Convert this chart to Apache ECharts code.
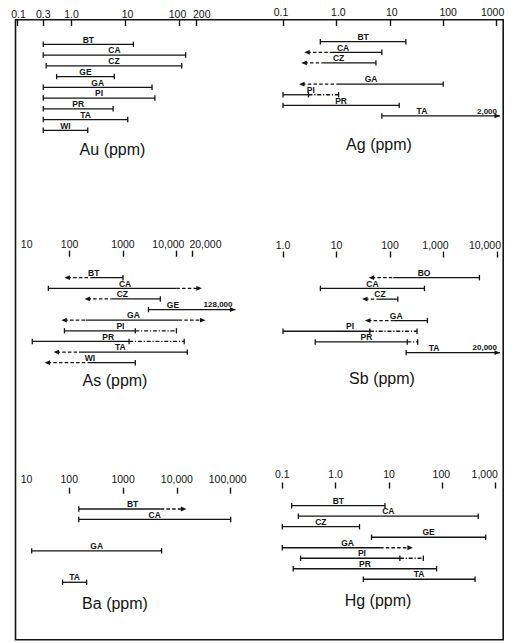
<!DOCTYPE html>
<html><head><meta charset="utf-8">
<script src="https://cdn.jsdelivr.net/npm/echarts@6/dist/echarts.min.js"></script>
<style>html,body{margin:0;padding:0;background:#fff}#c{width:518px;height:643px}</style>
</head><body><div id="c"></div>
<script>
// ================= DATA (all values in ppm) =================
// low/high = solid range; lowOpen/highOpen = range open-ended (arrow) to that value;
// highExt = additional (dash-dot) range; maxVal = reported maximum (off scale, solid arrow)

// ---- Au ----
const auNames = ['BT','CA','CZ','GE','GA','PI','PR','TA','WI'];
const auLow   = [0.3, 0.3, 0.34, 0.53, 0.3, 0.3, 0.3, 0.3, 0.3];
const auHigh  = [14, 130, 110, 6.2, 31, 35, 5.9, 11, 2.0];
const auTicks = [0.1, 0.3, 1, 10, 100, 200];
const auTickLabels = ['0.1','0.3','1.0','10','100','200'];

// ---- Ag ----
const agNames   = ['BT','CA','CZ','','GA','PI','PR','TA'];
const agLow     = [0.5, 0.75, 0.57, null, 1.0, 0.1, 0.1, 7.1];
const agHigh    = [20, 7.1, 5.5, null, 100, 0.3, 15, null];
const agLowOpen = [null, 0.25, 0.22, null, 0.2, null, null, null];
const agHighExt = [null, null, null, null, null, 1.1, null, null];
const agMaxVal  = [null, null, null, null, null, null, null, 2000];
const agTicks = [0.1, 1, 10, 100, 1000];
const agTickLabels = ['0.1','1.0','10','100','1000'];

// ---- As ----
const asNames    = ['BT','CA','CZ','GE','GA','PI','PR','TA','WI'];
const asLow      = [250, 40, 600, 3000, 200, 80, 20, 150, 220];
const asHigh     = [1000, 10000, 5000, null, 11000, 1700, 1300, 16000, 1700];
const asLowOpen  = [80, null, 190, null, 70, null, null, 50, 34];
const asHighOpen = [null, 30000, null, null, 35000, null, null, null, null];
const asHighExt  = [null, null, null, null, null, 10000, 14000, null, null];
const asMaxVal   = [null, null, null, 128000, null, null, null, null, null];
const asTicks = [100, 1000, 10000, 20000];
const asLabelValues = [10, 100, 1000, 10000, 20000];
const asTickLabels = ['10','100','1000','10,000','20,000'];

// ---- Sb ----
const sbNames   = ['BO','CA','CZ','','GA','PI','PR','TA'];
const sbLow     = [115, 5, 65, null, 115, 1.0, 4, 200];
const sbHigh    = [4700, 440, 140, null, 500, 42, 210, null];
const sbLowOpen = [40, null, 30, null, 34, null, null, null];
const sbHighExt = [null, null, null, null, null, 320, 330, null];
const sbMaxVal  = [null, null, null, null, null, null, null, 20000];
const sbTicks = [1, 10, 100, 1000, 10000];
const sbTickLabels = ['1.0','10','100','1,000','10,000'];

// ---- Ba ----
const baNames    = ['BT','CA','','','GA','','','TA'];
const baLow      = [150, 150, null, null, 20, null, null, 75];
const baHigh     = [5000, 100000, null, null, 5200, null, null, 210];
const baHighOpen = [15000, null, null, null, null, null, null, null];
const baTicks = [100, 1000, 10000, 100000];
const baLabelValues = [10, 100, 1000, 10000, 100000];
const baTickLabels = ['10','100','1000','10,000','100,000'];

// ---- Hg ----
const hgNames    = ['BT','CA','CZ','GE','GA','PI','PR','TA'];
const hgLow      = [0.15, 0.2, 0.1, 4.7, 0.1, 0.22, 0.16, 3.3];
const hgHigh     = [8.4, 470, 2.8, 650, 6.8, 16, 78, 410];
const hgHighOpen = [null, null, null, null, 28, null, null, null];
const hgHighExt  = [null, null, null, null, null, 44, null, null];
const hgTicks = [0.1, 1, 10, 100, 1000];
const hgTickLabels = ['0.1','1.0','10','100','1,000'];

// ================= LAYOUT / STYLE =================
const INK = '#141414';
const FONT = '"Liberation Sans", Arial, sans-serif';

const panels = [
  { title: 'Au (ppm)', d: { names: auNames, low: auLow, high: auHigh },
    ticks: auTicks, labelValues: auTicks, labelTexts: auTickLabels,
    L: { x0: 71.5, slope: 54, lmin: -1, lmax: 3, y0: 44.3, sp: 10.75, axisY: 20, margin: 1, shifts: [1,0,0,2,-2,6], tx: 112.5, ty: 149.4 } },
  { title: 'Ag (ppm)', d: { names: agNames, low: agLow, high: agHigh, lowOpen: agLowOpen, highExt: agHighExt, maxVal: agMaxVal },
    ticks: agTicks, labelValues: agTicks, labelTexts: agTickLabels,
    L: { x0: 336.4, slope: 53.4, lmin: -1, lmax: 3.12, y0: 41.7, sp: 10.61, axisY: 20, margin: 3, shifts: [-2,2,2,5,-4], tx: 379, ty: 144.5 } },
  { title: 'As (ppm)', d: { names: asNames, low: asLow, high: asHigh, lowOpen: asLowOpen, highOpen: asHighOpen, highExt: asHighExt, maxVal: asMaxVal },
    ticks: asTicks, labelValues: asLabelValues, labelTexts: asTickLabels,
    L: { x0: -37.2, slope: 53.4, lmin: 1, lmax: 5.3, y0: 277.7, sp: 10.625, axisY: 250.7, margin: 1, shifts: [10.5,0,0,-8,13], tx: 115, ty: 380.3 } },
  { title: 'Sb (ppm)', d: { names: sbNames, low: sbLow, high: sbHigh, lowOpen: sbLowOpen, highExt: sbHighExt, maxVal: sbMaxVal },
    ticks: sbTicks, labelValues: sbTicks, labelTexts: sbTickLabels,
    L: { x0: 283, slope: 53.5, lmin: 0, lmax: 4.112, y0: 277.7, sp: 10.71, axisY: 251.5, margin: 1, shifts: [0,0,0,-8,-12], tx: 382, ty: 378.7 } },
  { title: 'Ba (ppm)', d: { names: baNames, low: baLow, high: baHigh, highOpen: baHighOpen },
    ticks: baTicks, labelValues: baLabelValues, labelTexts: baTickLabels,
    L: { x0: -38.3, slope: 53.8, lmin: 1, lmax: 5.3, y0: 509, sp: 10.47, axisY: 487.7, margin: 3, shifts: [11,0,0,0,-3], tx: 115, ty: 603.5 } },
  { title: 'Hg (ppm)', d: { names: hgNames, low: hgLow, high: hgHigh, highOpen: hgHighOpen, highExt: hgHighExt },
    ticks: hgTicks, labelValues: hgTicks, labelTexts: hgTickLabels,
    L: { x0: 335.65, slope: 53.35, lmin: -1, lmax: 3.137, y0: 505.7, sp: 10.51, axisY: 482.5, margin: 3, shifts: [0,0,0,-1,-11], tx: 378, ty: 600.5 } }
];

const DASH = [3.5, 2.2];
const DASHDOT = [4, 1.8, 1.2, 1.8];
const LABEL_SIZE = 10.5;

function lineEl(x1, x2, y, dash) {
  return { type: 'line', shape: { x1: x1, y1: y, x2: x2, y2: y },
    style: { stroke: INK, lineWidth: 1.3, lineDash: dash || null } };
}
function capEl(x, y) {
  return { type: 'line', shape: { x1: x, y1: y - 2.7, x2: x, y2: y + 2.7 }, style: { stroke: INK, lineWidth: 1.3 } };
}
function arrowEl(x, y, dir) {
  const b = x - dir * 5.5;
  return { type: 'polygon', shape: { points: [[x, y], [b, y - 2.4], [b, y + 2.4]] }, style: { fill: INK } };
}

function buildPanel(p, k) {
  const d = p.d, L = p.L;
  const n = d.names.length;
  const rows = [];
  d.names.forEach((nm, r) => { if (nm) rows.push(r); });
  const g = (arr, r) => (arr && arr[r] != null) ? arr[r] : null;

  // y axis: row index, grid top sits on the tick line of the x axis
  const yMin = -(L.y0 - L.axisY) / L.sp;
  const yMax = n - 0.5;
  const grid = {
    left: L.x0 + L.lmin * L.slope,
    width: (L.lmax - L.lmin) * L.slope,
    top: L.axisY,
    height: (yMax - yMin) * L.sp,
    containLabel: false,
    outerBoundsMode: 'none'
  };
  const labelLogs = p.labelValues.map(v => Math.log10(v));
  const rich = {};
  L.shifts.forEach((s, j) => {
    rich['s' + j] = { fontSize: LABEL_SIZE, fontFamily: FONT, color: INK,
      padding: s >= 0 ? [0, 0, 0, 2 * s] : [0, -2 * s, 0, 0] };
  });
  const xAxis = {
    gridIndex: k, type: 'value', position: 'top',
    min: L.lmin, max: L.lmax,
    axisLine: { show: false, onZero: false }, splitLine: { show: false },
    axisTick: { show: true, inside: true, length: 6, customValues: p.ticks.map(v => Math.log10(v)),
      lineStyle: { color: INK, width: 1.4 } },
    axisLabel: { show: true, customValues: labelLogs, margin: L.margin, color: INK,
      hideOverlap: false, showMinLabel: true, showMaxLabel: true,
      fontSize: LABEL_SIZE, fontFamily: FONT, rich: rich,
      formatter: function (v) {
        let j = 0, best = Infinity;
        labelLogs.forEach((lv, q) => { const e = Math.abs(lv - v); if (e < best) { best = e; j = q; } });
        return '{s' + j + '|' + p.labelTexts[j] + '}';
      } }
  };
  const yAxis = { gridIndex: k, type: 'value', min: yMin, max: yMax, inverse: true, show: false,
    axisLine: { onZero: false } };

  const series = {
    type: 'custom', xAxisIndex: k, yAxisIndex: k, clip: false, silent: true,
    data: rows.map(r => [Math.log10(d.low[r]), r]),
    renderItem: function (params, api) {
      const r = rows[params.dataIndex];
      const cs = params.coordSys;
      const xMax = cs.x + cs.width - 3;
      const X = v => Math.min(api.coord([Math.log10(v), r])[0], xMax);
      const y = api.coord([Math.log10(d.low[r]), r])[1];
      const lo = d.low[r], hi = d.high[r];
      const lOpen = g(d.lowOpen, r), hOpen = g(d.highOpen, r), hExt = g(d.highExt, r), mx = g(d.maxVal, r);
      const els = [];
      const xLo = X(lo);
      const xHi = mx != null ? X(mx) : X(hi);
      els.push(lineEl(xLo, xHi, y));
      let left = xLo, right = xHi;
      if (lOpen != null) {
        const xa = X(lOpen);
        els.push(lineEl(xa + 3, xLo, y, DASH));
        els.push(arrowEl(xa, y, -1));
        left = xa;
      } else {
        els.push(capEl(xLo, y));
      }
      if (mx != null) {
        els.push(arrowEl(xHi, y, 1));
        els.push({ type: 'text', style: { text: mx.toLocaleString('en-US'), x: xHi - 3, y: y - 4.8,
          align: 'right', verticalAlign: 'middle', fill: INK, font: 'bold 8px ' + FONT } });
        right = xHi - 38;
      } else if (hOpen != null) {
        const xb = X(hOpen);
        els.push(lineEl(xHi, xb - 3, y, DASH));
        els.push(arrowEl(xb, y, 1));
        right = xb;
      } else {
        els.push(capEl(xHi, y));
        if (hExt != null) {
          const xc = X(hExt);
          els.push(lineEl(xHi, xc, y, DASHDOT));
          els.push(capEl(xc, y));
          right = xc;
        }
      }
      els.push({ type: 'text', style: { text: d.names[r], x: (left + right) / 2, y: y - 4.8,
        align: 'center', verticalAlign: 'middle', fill: INK, font: 'bold 8.5px ' + FONT } });
      return { type: 'group', children: els };
    }
  };
  const titleEl = { type: 'text', x: L.tx, y: L.ty, silent: true,
    style: { text: p.title, align: 'center', verticalAlign: 'middle', fill: INK, font: '16px ' + FONT } };
  return { grid, xAxis, yAxis, series, titleEl };
}

const built = panels.map(buildPanel);
const option = {
  backgroundColor: '#ffffff',
  animation: false,
  grid: built.map(b => b.grid),
  xAxis: built.map(b => b.xAxis),
  yAxis: built.map(b => b.yAxis),
  series: built.map(b => b.series),
  graphic: [
    { type: 'rect', silent: true, shape: { x: 15.5, y: 19.8, width: 487.7, height: 620 },
      style: { fill: 'none', stroke: INK, lineWidth: 1.6 } }
  ].concat(built.map(b => b.titleEl))
};
const chart = echarts.init(document.getElementById('c'), null, { renderer: 'svg' });
chart.setOption(option);
</script>
</body></html>
